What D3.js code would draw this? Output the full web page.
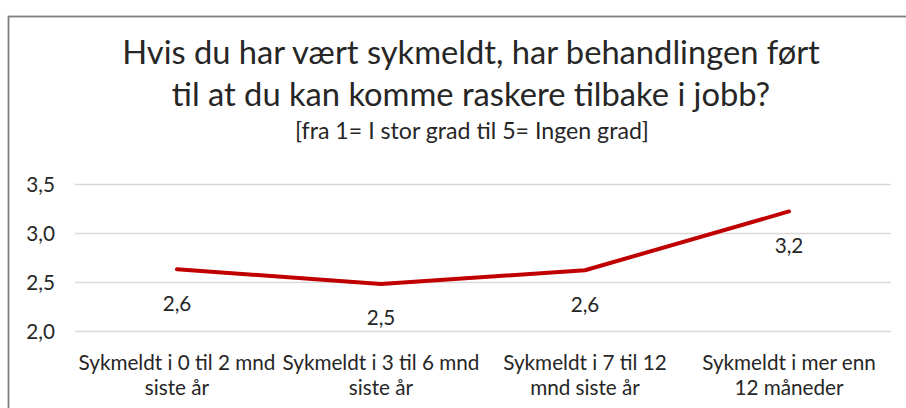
<!DOCTYPE html>
<html><head><meta charset="utf-8">
<script src="https://cdn.jsdelivr.net/npm/d3@7"></script>
<style>body{margin:0;background:#fff}svg{display:block}text{font-family:Lato,"Noto Sans",sans-serif;fill:#262626}</style>
</head><body>
<svg id="c" width="906" height="408"></svg>
<script>
const categories = [
  ["Sykmeldt i 0 til 2 mnd", "siste år"],
  ["Sykmeldt i 3 til 6 mnd", "siste år"],
  ["Sykmeldt i 7 til 12", "mnd siste år"],
  ["Sykmeldt i mer enn", "12 måneder"]
];
const values = [2.63, 2.48, 2.62, 3.22];
const valueLabels = ["2,6", "2,5", "2,6", "3,2"];
const yTicks = [2.0, 2.5, 3.0, 3.5];
const titleLines = ["Hvis du har vært sykmeldt, har behandlingen ført", "til at du kan komme raskere tilbake i jobb?"];
const subtitle = "[fra 1= I stor grad til 5= Ingen grad]";

const svg = d3.select("#c");
// chart frame
svg.append("rect").attr("x", 8.5).attr("y", 16.5).attr("width", 940).attr("height", 440)
  .attr("fill", "#fff").attr("stroke", "#7f7f7f").attr("stroke-width", 1.8);

function fitText(sel, w) {
  const n = sel.node(); const fs = parseFloat(sel.attr("font-size"));
  const cur = n.getComputedTextLength();
  const nf = fs * w / cur;
  sel.attr("font-size", nf.toFixed(2));
  return nf;
}
const t1 = svg.append("text").attr("x", 471).attr("y", 64).attr("text-anchor", "middle").attr("font-size", 26).text(titleLines[0]);
fitText(t1, 698);
const t2 = svg.append("text").attr("x", 471).attr("y", 106).attr("text-anchor", "middle").attr("font-size", 26).text(titleLines[1]);
t2.attr("font-size", t1.attr("font-size"));
const st = svg.append("text").attr("x", 472).attr("y", 139).attr("text-anchor", "middle").attr("font-size", 16).text(subtitle);
fitText(st, 354);

const x = d3.scaleBand().domain(d3.range(categories.length)).range([75, 891]);
const y = d3.scaleLinear().domain([2.0, 3.5]).range([331, 184]);

// measure label font size
const probe = svg.append("text").attr("font-size", 16).text(categories[0][0]);
const fs = fitText(probe, 197);
probe.remove();

// gridlines
const yAxis = d3.axisLeft(y).tickValues(yTicks).tickSize(-(891 - 75)).tickFormat(d => d3.format(".1f")(d).replace(".", ","));
const gy = svg.append("g").attr("transform", "translate(75,0)").call(yAxis);
gy.attr("font-size", null).attr("font-family", null);
gy.select(".domain").remove();
gy.selectAll(".tick line").attr("stroke", "#d9d9d9").attr("stroke-width", 1.3);
gy.selectAll(".tick text").attr("x", -20).attr("font-size", fs).attr("fill", "#404040").attr("dy", "0.35em");

// x labels
const gx = svg.append("g");
categories.forEach((c, i) => {
  const cx = x(i) + x.bandwidth() / 2;
  c.forEach((line, j) => {
    gx.append("text").attr("x", cx).attr("y", 370 + j * 25).attr("text-anchor", "middle")
      .attr("font-size", fs).attr("fill", "#404040").text(line);
  });
});

// line
const line = d3.line().x((d, i) => x(i) + x.bandwidth() / 2).y(d => y(d));
svg.append("path").datum(values).attr("d", line).attr("fill", "none")
  .attr("stroke", "#C00000").attr("stroke-width", 4).attr("stroke-linejoin", "round").attr("stroke-linecap", "round");

// data labels
svg.selectAll(".dl").data(values).join("text").attr("class", "dl")
  .attr("x", (d, i) => x(i) + x.bandwidth() / 2).attr("y", d => y(d) + 41.5)
  .attr("text-anchor", "middle").attr("font-size", fs).attr("fill", "#404040")
  .text((d, i) => valueLabels[i]);
</script>
</body></html>
